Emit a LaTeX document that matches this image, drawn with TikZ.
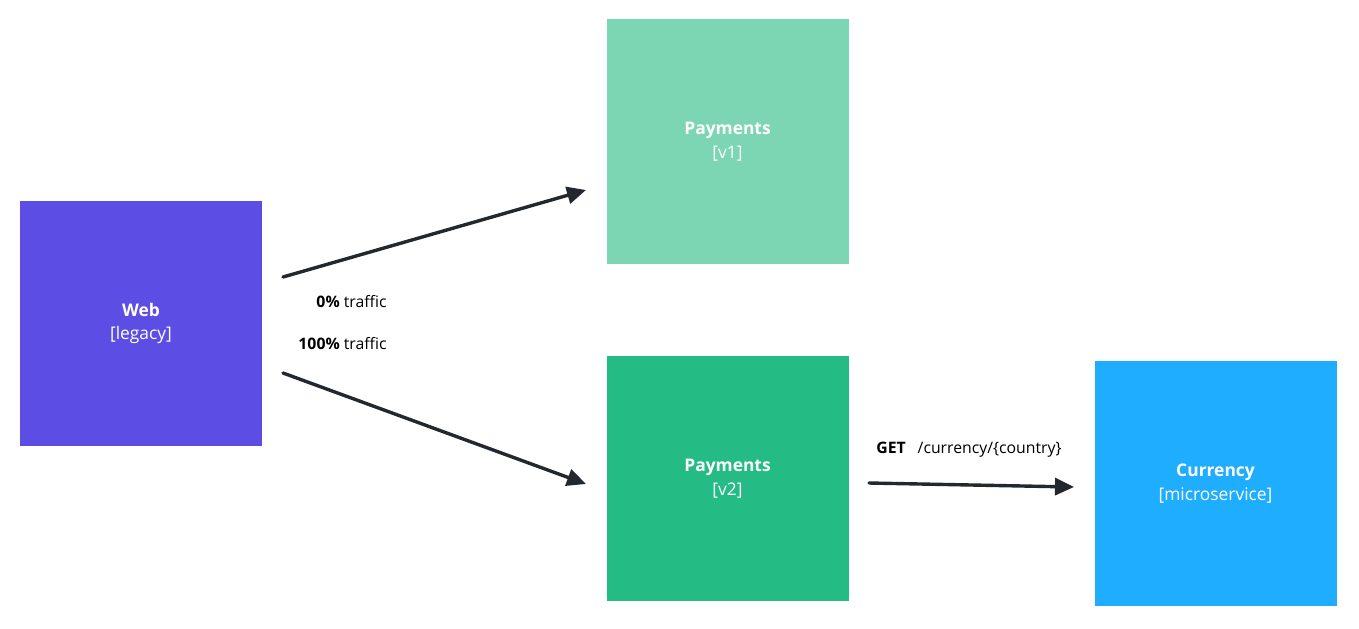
\documentclass[tikz,border=0pt]{standalone}
\usepackage{fontspec}
\setmainfont{Open Sans}
\usetikzlibrary{arrows.meta}
\definecolor{webblue}{HTML}{5C4EE5}
\definecolor{payold}{HTML}{7DD6B3}
\definecolor{paynew}{HTML}{25BB85}
\definecolor{curblue}{HTML}{1FADFF}
\definecolor{arrowdark}{HTML}{23282F}
\tikzset{
  service/.style={rectangle, minimum width=121pt, minimum height=122.5pt, inner sep=0pt,
    text=white, align=center, font=\fontsize{8.7}{11.8}\selectfont},
  call/.style={line width=1.7pt, draw=arrowdark, line cap=round,
    -{Triangle[length=9.5pt,width=8.5pt]}},
  note/.style={font=\fontsize{7.9}{9}\selectfont, inner sep=0pt}
}
\begin{document}
\begin{tikzpicture}[x=0.5pt,y=-0.5pt]
\useasboundingbox (0,0) rectangle (1359,628);

%сервисы
\node[service, fill=webblue] (web) at (141,323.5) {\textbf{Web}\\{[legacy]}};
\node[service, fill=payold] (payv1) at (727.5,141.5) {\textbf{Payments}\\{[v1]}};
\node[service, fill=paynew] (payv2) at (727.5,478.5) {\textbf{Payments}\\{[v2]}};
\node[service, fill=curblue] (currency) at (1215.5,483.5) {\textbf{Currency}\\{[microservice]}};

%концы стрелок
\coordinate (webup) at (283,277);
\coordinate (webdown) at (283,373);
\coordinate (v1in) at (586,190);
\coordinate (v2in) at (586,484);
\coordinate (v2out) at (869,483);
\coordinate (curin) at (1074,487);

\draw[call] (webup) -- (v1in);
\draw[call] (webdown) -- (v2in);
\draw[call] (v2out) -- (curin);

%подписи
\node[note, anchor=east] (zero) at (387,302) {\textbf{0\%} traffic};
\node[note, anchor=east] (full) at (387,344) {\textbf{100\%} traffic};
\node[note, anchor=west] (get) at (876,450) {\textbf{GET}\hspace{0.75em}/currency/\{country\}};

\end{tikzpicture}
\end{document}
